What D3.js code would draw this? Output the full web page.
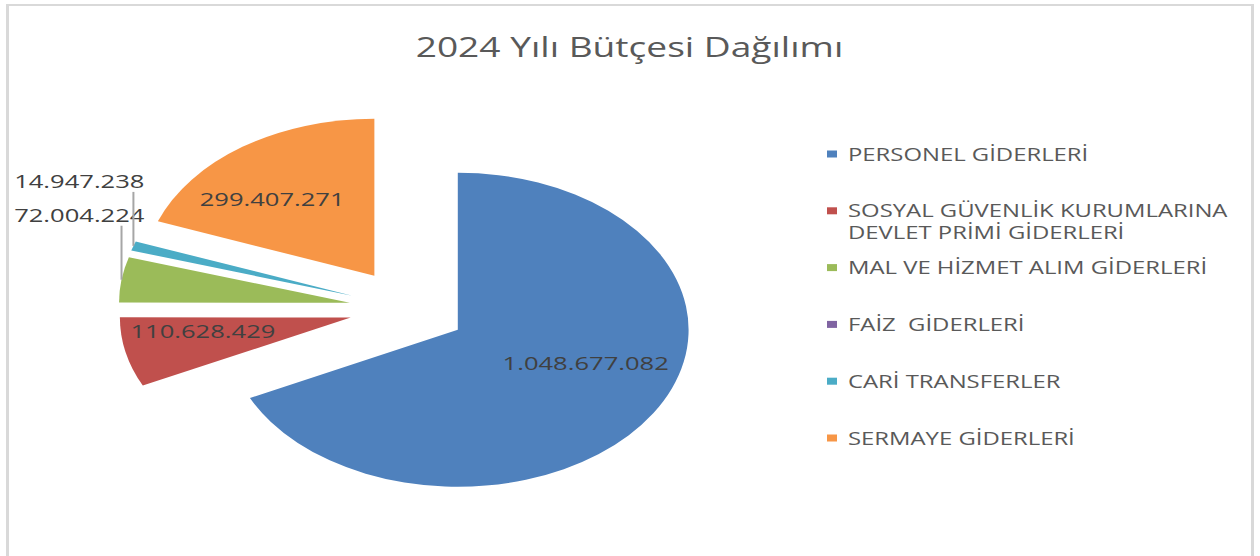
<!DOCTYPE html>
<html><head><meta charset="utf-8">
<script src="https://cdn.jsdelivr.net/npm/d3@7"></script>
<style>html,body{margin:0;padding:0;background:#fff;} svg{display:block;font-family:"Open Sans",sans-serif;} text{white-space:pre;}</style>
</head><body><svg id="chart" width="1260" height="556"></svg>
<script>
const title = "2024 Yılı Bütçesi Dağılımı";
const categories = ["PERSONEL GİDERLERİ", "SOSYAL GÜVENLİK KURUMLARINA DEVLET PRİMİ GİDERLERİ", "MAL VE HİZMET ALIM GİDERLERİ", "FAİZ  GİDERLERİ", "CARİ TRANSFERLER", "SERMAYE GİDERLERİ"];
const values = [1048677082, 110628429, 72004224, 0, 14947238, 299407271];
const colors = ["#4f81bd", "#c0504d", "#9bbb59", "#8064a2", "#4bacc6", "#f79646"];
// small angular nudges (degrees) of the inside data labels, Excel "best fit" style
const labelAngleNudge = [-11, 4.6, 0, 0, 0, -7.7];
const labelRadiusFrac = [0.594, 0.647, 0, 0, 0, 0.655];

const W = 1260, H = 556;
const SX = 1.47;           // horizontal stretch of the plot
const TITLE_SX = 1.325;    // horizontal stretch of texts
const LABEL_SX = 1.42;
const LEGEND_SX = 1.29;
const R = 157, EXPLODE = 40, CX = 408, CY = 308.5;

const svg = d3.select("#chart");
// frame
svg.append("line").attr("x1", 6).attr("x2", 1254).attr("y1", 5).attr("y2", 5).attr("stroke", "#d9d9d9").attr("stroke-width", 2);
svg.append("line").attr("x1", 7.5).attr("x2", 7.5).attr("y1", 4).attr("y2", H).attr("stroke", "#d9d9d9").attr("stroke-width", 3);
svg.append("line").attr("x1", 1252.5).attr("x2", 1252.5).attr("y1", 4).attr("y2", H).attr("stroke", "#d9d9d9").attr("stroke-width", 3);

function stretchedText(parent, x, y, str, size, fill, anchor, sx) {
  return parent.append("text")
    .attr("transform", `translate(${x},${y}) scale(${sx},1)`)
    .attr("text-anchor", anchor || "start")
    .attr("font-size", size)
    .attr("fill", fill)
    .text(str);
}

// title
stretchedText(svg, 629.5, 57, title, 28, "#595959", "middle", TITLE_SX);

// pie
const fmt = d3.formatLocale({decimal: ",", thousands: ".", grouping: [3], currency: ["", ""]}).format(",d");
const data = categories.map((c, i) => ({name: c, value: values[i], color: colors[i], idx: i}));
const total = d3.sum(values);
const pie = d3.pie().sort(null).value(d => d.value);
const arcs = pie(data);
arcs.forEach(a => {
  a.mid = (a.startAngle + a.endAngle) / 2;
  a.ox = EXPLODE * Math.sin(a.mid);
  a.oy = -EXPLODE * Math.cos(a.mid);
});
const arc = d3.arc().innerRadius(0).outerRadius(R);
const g = svg.append("g").attr("transform", `translate(${CX},${CY}) scale(${SX},1)`);
g.selectAll("path").data(arcs.filter(a => a.value > 0)).join("path")
  .attr("d", arc)
  .attr("fill", d => d.data.color)
  .attr("transform", d => `translate(${d.ox},${d.oy})`);

const toScreen = (ux, uy) => [CX + SX * ux, CY + uy];

const outside = [];
arcs.filter(a => a.value > 0).forEach(a => {
  const frac = a.value / total;
  if (frac > 0.06) {
    const ang = a.mid + labelAngleNudge[a.data.idx] * Math.PI / 180;
    const rr = labelRadiusFrac[a.data.idx] * R;
    const [x, y] = toScreen(a.ox + rr * Math.sin(ang), a.oy - rr * Math.cos(ang));
    stretchedText(svg, x, y, fmt(a.value), 18, "#404040", "middle", LABEL_SX).attr("dy", "0.35em");
  } else {
    const [px, py] = toScreen(a.ox + R * Math.sin(a.mid), a.oy - R * Math.cos(a.mid));
    outside.push({a, px, py});
  }
});
const labelRight = d3.max(outside, d => d.px) + 11;
outside.forEach(d => {
  const base = d.py - 58;
  svg.append("line").attr("x1", d.px).attr("x2", d.px).attr("y1", d.py).attr("y2", base + 4)
    .attr("stroke", "#a6a6a6").attr("stroke-width", 2);
  stretchedText(svg, labelRight, base, fmt(d.a.value), 18, "#404040", "end", LABEL_SX);
});

// legend
const ly = d3.scalePoint().domain(categories).range([154, 438]);
const legend = svg.append("g");
const maxW = 395;
categories.forEach((c, i) => {
  const y = ly(c);
  legend.append("rect").attr("x", 827).attr("y", y - 3.5).attr("width", 10).attr("height", 7).attr("fill", colors[i]);
  const words = c.split(" ");
  const lines = [];
  let cur = "";
  const t = stretchedText(legend, 848, y + 6.5, "", 18.5, "#595959", "start", LEGEND_SX);
  words.forEach(w => {
    const test = cur === "" ? w : cur + " " + w;
    t.text(test);
    if (t.node().getComputedTextLength() * LEGEND_SX > maxW && cur !== "") {
      lines.push(cur);
      cur = w;
    } else cur = test;
  });
  lines.push(cur);
  t.text(null);
  lines.forEach((ln, j) => t.append("tspan").attr("x", 0).attr("dy", j === 0 ? 0 : 22).text(ln));
});
</script></body></html>
